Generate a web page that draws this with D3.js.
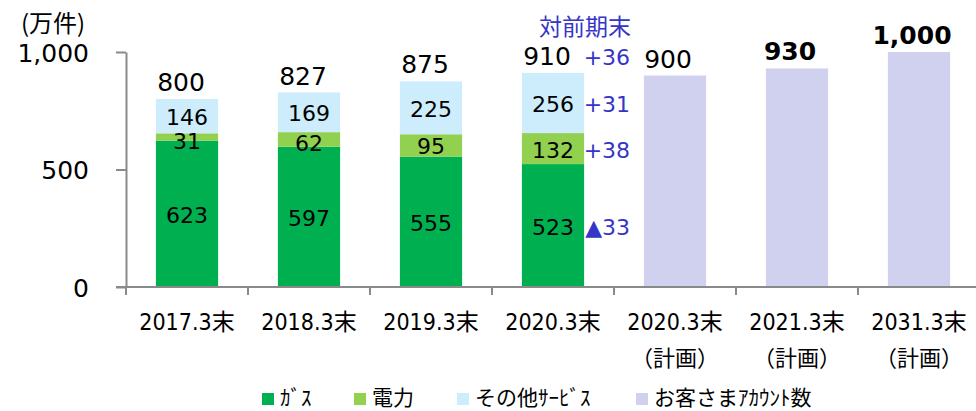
<!DOCTYPE html>
<html>
<head>
<meta charset="utf-8">
<script src="https://cdn.jsdelivr.net/npm/d3@7"></script>
<style>
body{margin:0;background:#fff}
svg{display:block}
</style>
</head>
<body>
<div id="container"></div>
<script>
// data
var categories = ["2017.3末","2018.3末","2019.3末","2020.3末","2020.3末","2021.3末","2031.3末"]
var subLabels = ["","","","","（計画）","（計画）","（計画）"]
var gas = [623,597,555,523]
var power = [31,62,95,132]
var other = [146,169,225,256]
var totals = [800,827,875,910]
var plan = [900,930,1000]
var planBold = [false,true,true]
var changeTitle = "対前期末"
var changeTotal = "+36"
var changes = {gas:"▲33",power:"+38",other:"+31"}
var yTicks = [0,500,1000]
var seriesNames = {gas:"ｶﾞｽ",power:"電力",other:"その他ｻｰﾋﾞｽ",plan:"お客さまｱｶｳﾝﾄ数"}
var colors = {gas:"#00b050",power:"#92d050",other:"#cdedfd",plan:"#d0d1ee"}

var w = 976, h = 411
var numFont = "'DejaVu Sans', sans-serif"
var catFont = "'DejaVu Sans Condensed', 'Noto Sans CJK JP', sans-serif"
var jpFont = "'Noto Sans CJK JP', sans-serif"
var blue = "#3535c8"

var svg = d3.select("#container").append("svg").attr("width",w).attr("height",h)

var x = d3.scaleBand().domain(d3.range(categories.length)).range([126,980]).paddingInner(0.49).paddingOuter(0.245)
var y = d3.scaleLinear().domain([0,1000]).range([287,52])

// label y in the middle of a segment, a bit lower for thin ones
function midY(d){
    var m = (y(d[0])+y(d[1]))/2+9
    if(y(d[0])-y(d[1])<20) m+=3
    return m
}

// stacked actual bars
var rows = gas.map(function(d,i){return {i:i,gas:gas[i],power:power[i],other:other[i]}})
var stack = d3.stack().keys(["gas","power","other"])(rows)

stack.forEach(function(layer){
    svg.append("g").selectAll("rect").data(layer).enter().append("rect")
    .attr("x",function(d){return x(d.data.i)})
    .attr("width",x.bandwidth())
    .attr("y",function(d){return y(d[1])})
    .attr("height",function(d){return y(d[0])-y(d[1])})
    .attr("fill",colors[layer.key])
})
stack.forEach(function(layer){
    svg.append("g").selectAll("text").data(layer).enter().append("text")
    .attr("x",function(d){return x(d.data.i)+x.bandwidth()/2})
    .attr("y",midY)
    .attr("text-anchor","middle")
    .style("font-family",numFont).style("font-size","22px").attr("fill","#000")
    .text(function(d){return d.data[layer.key]})
})

// planned bars
var planIdx = plan.map(function(d,i){return i+gas.length})
svg.append("g").selectAll("rect").data(plan).enter().append("rect")
.attr("x",function(d,i){return x(planIdx[i])})
.attr("width",x.bandwidth())
.attr("y",function(d){return y(d)})
.attr("height",function(d){return y(0)-y(d)})
.attr("fill",colors.plan)

// total labels
svg.append("g").selectAll("text").data(totals).enter().append("text")
.attr("x",function(d,i){return x(i)+x.bandwidth()/2-6})
.attr("y",function(d){return y(d)-8})
.attr("text-anchor","middle")
.style("font-family",numFont).style("font-size","25px").attr("fill","#000")
.text(function(d){return d})

svg.append("g").selectAll("text").data(plan).enter().append("text")
.attr("x",function(d,i){return x(planIdx[i])+x.bandwidth()/2-7})
.attr("y",function(d){return y(d)-8})
.attr("text-anchor","middle")
.style("font-family",numFont).style("font-size","25px")
.style("font-weight",function(d,i){return planBold[i]?"bold":"normal"}).attr("fill","#000")
.text(function(d){return d3.format(",")(d)})

// change vs previous period
var last = gas.length-1
var cx = x(last)+x.bandwidth()+46
svg.append("text").attr("x",cx+1).attr("y",35).attr("text-anchor","end")
.style("font-family",jpFont).style("font-size","23px").attr("fill",blue).text(changeTitle)
svg.append("text").attr("x",cx).attr("y",y(totals[last])-8).attr("text-anchor","end")
.style("font-family",numFont).style("font-size","22px").attr("fill",blue).text(changeTotal)
stack.forEach(function(layer){
    var d = layer[last]
    svg.append("text").attr("x",cx).attr("y",midY(d)).attr("text-anchor","end")
    .style("font-family",numFont).style("font-size","22px").attr("fill",blue).text(changes[layer.key])
})

// y axis
var yAxis = d3.axisLeft(y).tickValues(yTicks).tickFormat(d3.format(",")).tickSize(10).tickSizeOuter(0).tickPadding(27)
var ya = svg.append("g").attr("transform","translate(126,0)").call(yAxis)
ya.selectAll("path,line").attr("stroke","#8a8a8a").attr("stroke-width",2)
ya.selectAll("text").style("font-family",numFont).style("font-size","25px").attr("fill","#000").attr("dy","0.36em")

svg.append("text").attr("x",21).attr("y",32)
.style("font-family",jpFont).style("font-size","24px").attr("fill","#000").text("(万件)")

// x axis
var xa = svg.append("g")
xa.append("line").attr("x1",116).attr("x2",w).attr("y1",y(0)).attr("y2",y(0)).attr("stroke","#8a8a8a").attr("stroke-width",2)
xa.selectAll(".tk").data(categories).enter().append("line")
.attr("x1",function(d,i){return x.range()[0]+i*x.step()})
.attr("x2",function(d,i){return x.range()[0]+i*x.step()})
.attr("y1",y(0)).attr("y2",y(0)+8).attr("stroke","#8a8a8a").attr("stroke-width",2)
xa.selectAll(".lb").data(categories).enter().append("text")
.attr("x",function(d,i){return x(i)+x.bandwidth()/2})
.attr("y",330).attr("text-anchor","middle")
.style("font-family",catFont).style("font-size","23px").attr("fill","#000")
.text(function(d){return d})
xa.selectAll(".lb2").data(subLabels).enter().append("text")
.attr("x",function(d,i){return x(i)+x.bandwidth()/2})
.attr("y",366).attr("text-anchor","middle")
.style("font-family",jpFont).style("font-size","22px").attr("fill","#000")
.text(function(d){return d})

// legend
var legendKeys = ["gas","power","other","plan"]
var legendX = [262,354,457,636]
legendKeys.forEach(function(k,i){
    var g = svg.append("g")
    g.append("rect").attr("x",legendX[i]).attr("y",393).attr("width",12).attr("height",12).attr("fill",colors[k])
    g.append("text").attr("x",legendX[i]+18).attr("y",405)
    .style("font-family",jpFont).style("font-size","21px").attr("fill","#000").text(seriesNames[k])
})
</script>
</body>
</html>
